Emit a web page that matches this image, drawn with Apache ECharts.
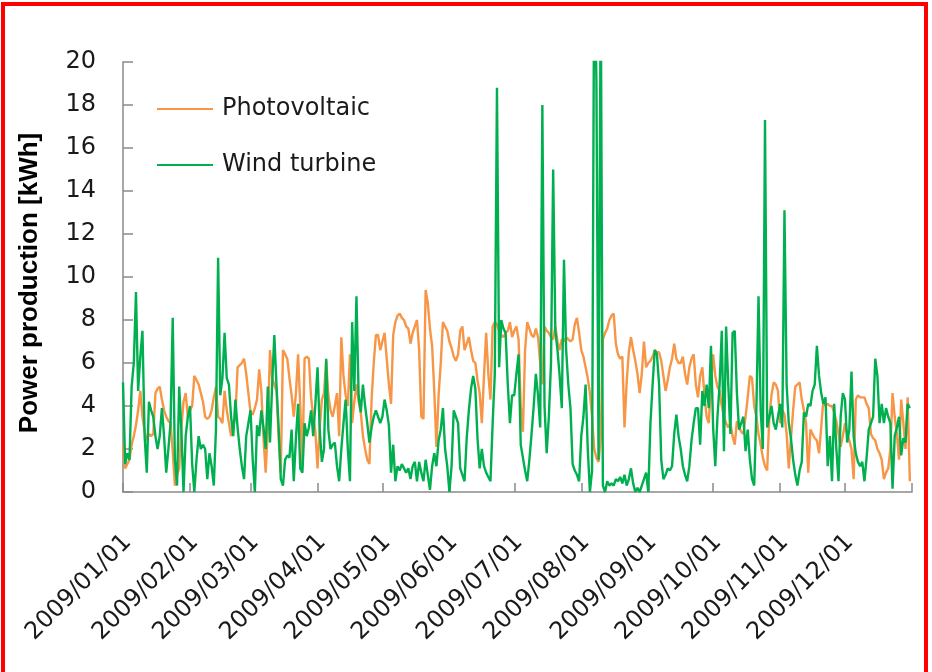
<!DOCTYPE html>
<html>
<head>
<meta charset="utf-8">
<title>Power production 2009</title>
<script src="https://cdn.jsdelivr.net/npm/echarts@6/dist/echarts.min.js"></script>
<style>
  html, body { margin: 0; padding: 0; background: #ffffff; }
  #chart { width: 932px; height: 672px; }
</style>
</head>
<body>
<div id="chart"></div>
<script>
// Daily energy yield in 2009 [kWh], one line per month (Jan..Dec)
const photovoltaic = [
  2.2, 1.1, 1.3, 1.5, 2.2, 2.6, 3.1, 3.8, 4.7, 3.5, 2.8, 2.4, 2.7, 2.6, 2.7, 4.6, 4.8, 4.9, 4.3, 3.8, 3.5, 3.3, 3.2, 1.9, 0.3, 0.8, 1.1, 3.0, 4.2, 4.6, 3.5,
  3.8, 4.0, 5.4, 5.2, 5.0, 4.6, 4.2, 3.5, 3.4, 3.5, 3.8, 4.4, 4.9, 3.5, 3.4, 3.2, 4.7, 3.8, 3.2, 2.6, 3.0, 3.5, 5.8, 5.9, 6.0, 6.2, 5.5, 4.6,
  3.7, 3.6, 3.9, 4.3, 5.7, 4.7, 2.5, 0.9, 3.0, 6.6, 5.3, 5.0, 4.7, 2.5, 0.9, 6.6, 6.4, 6.2, 5.3, 4.5, 3.5, 4.6, 6.4, 4.0, 1.2, 6.2, 6.3, 6.2, 4.4, 3.5, 2.8,
  1.1, 3.0, 4.3, 4.6, 6.1, 4.5, 3.8, 3.5, 4.0, 4.6, 2.6, 7.2, 5.4, 4.5, 4.0, 6.4, 3.2, 4.2, 5.0, 4.2, 3.7, 2.6, 2.0, 1.5, 1.3, 4.3, 6.0, 7.3, 7.3, 6.6,
  7.0, 7.4, 6.2, 5.0, 4.1, 7.3, 7.9, 8.2, 8.3, 8.1, 8.0, 7.7, 7.6, 6.9, 7.4, 7.7, 8.0, 6.6, 3.5, 3.4, 9.4, 8.8, 7.6, 6.8, 4.7, 2.1, 4.5, 6.0, 7.9, 7.7, 7.5,
  7.0, 6.7, 6.3, 6.1, 6.4, 7.5, 7.7, 6.6, 6.9, 7.2, 6.6, 6.1, 6.0, 5.2, 4.6, 3.2, 5.4, 7.4, 5.5, 4.3, 7.7, 7.9, 7.8, 7.5, 7.3, 7.2, 7.4, 7.5, 7.9, 7.2,
  7.5, 7.7, 7.1, 4.0, 2.8, 6.6, 7.9, 7.6, 7.3, 7.2, 7.6, 7.2, 6.0, 5.0, 7.7, 7.5, 7.4, 7.2, 7.1, 7.7, 7.0, 6.6, 7.1, 7.0, 7.2, 7.1, 7.0, 7.1, 7.8, 8.1, 7.4,
  6.6, 6.3, 5.8, 5.3, 4.6, 3.5, 2.0, 1.6, 1.4, 2.5, 7.1, 7.4, 7.6, 8.0, 8.2, 8.3, 6.9, 6.4, 6.2, 6.3, 3.0, 5.1, 6.5, 7.2, 6.6, 6.1, 5.5, 4.6, 5.5, 7.0, 5.8,
  6.0, 6.1, 6.3, 6.6, 6.5, 6.5, 6.1, 5.4, 4.7, 5.2, 5.8, 6.2, 6.9, 6.2, 6.0, 6.0, 6.3, 5.5, 5.0, 5.8, 6.2, 6.4, 5.0, 4.4, 5.4, 5.8, 4.5, 3.5, 3.2, 5.0,
  6.4, 5.4, 4.9, 4.7, 4.0, 3.5, 3.2, 3.0, 3.2, 2.6, 2.2, 3.3, 3.0, 2.8, 2.7, 3.5, 4.4, 5.4, 5.3, 4.0, 3.5, 2.7, 2.2, 1.6, 1.2, 1.0, 3.5, 4.5, 5.1, 5.0, 4.7,
  3.2, 3.8, 3.6, 2.7, 1.1, 2.5, 3.8, 4.9, 5.0, 5.1, 4.3, 3.8, 3.2, 0.9, 2.9, 2.7, 2.5, 2.4, 1.8, 3.0, 4.3, 4.0, 4.1, 4.0, 4.0, 3.7, 3.3, 2.7, 2.1, 2.6,
  3.2, 2.7, 2.4, 2.0, 0.6, 4.3, 4.5, 4.4, 4.4, 4.4, 4.1, 3.9, 2.7, 2.5, 2.4, 2.0, 1.8, 1.5, 0.6, 0.9, 1.1, 2.0, 4.6, 3.5, 2.7, 1.5, 4.3, 3.2, 2.0, 4.4, 0.5
];

const windTurbine = [
  5.1, 1.3, 1.8, 1.5, 4.9, 6.0, 9.3, 4.7, 6.3, 7.5, 2.6, 0.9, 4.2, 3.8, 3.5, 2.6, 2.0, 2.6, 3.9, 2.6, 0.9, 2.0, 3.2, 8.1, 1.5, 0.3, 4.9, 2.9, 0.0, 2.6, 3.5,
  4.0, 1.3, 0.0, 1.5, 2.6, 2.0, 2.2, 2.0, 0.6, 1.8, 1.2, 0.3, 2.9, 10.9, 4.5, 5.3, 7.4, 5.3, 5.0, 3.5, 2.6, 4.3, 3.0, 2.0, 1.2, 0.6, 2.6, 3.2,
  3.8, 1.5, 0.0, 3.1, 2.6, 3.8, 3.0, 2.0, 4.9, 2.3, 5.0, 7.3, 5.0, 3.0, 0.6, 0.3, 1.5, 1.7, 1.6, 2.9, 0.5, 2.5, 4.1, 1.1, 0.9, 3.2, 2.6, 3.0, 3.8, 2.6, 4.1,
  5.8, 2.9, 1.4, 2.0, 6.2, 2.9, 2.0, 2.2, 2.3, 1.2, 0.5, 2.0, 3.2, 4.3, 2.0, 0.5, 7.9, 4.7, 9.1, 4.5, 3.7, 5.0, 4.0, 3.2, 2.3, 3.0, 3.5, 3.8, 3.5, 3.2,
  3.5, 4.3, 3.8, 3.1, 0.9, 2.2, 0.5, 1.2, 1.0, 1.3, 1.1, 0.9, 1.1, 0.6, 1.2, 1.4, 0.5, 1.4, 0.9, 0.5, 1.5, 0.8, 0.1, 1.2, 1.8, 1.2, 2.4, 2.9, 3.9, 2.0, 1.2,
  0.0, 1.2, 3.8, 3.5, 3.2, 1.1, 0.8, 0.5, 2.5, 3.8, 4.8, 5.4, 4.8, 2.5, 1.1, 2.0, 1.2, 0.9, 0.7, 0.5, 3.2, 5.5, 18.8, 5.8, 8.0, 7.6, 7.4, 5.0, 3.2, 4.5,
  4.5, 5.5, 6.4, 2.2, 1.6, 1.0, 0.5, 1.5, 2.7, 4.0, 5.5, 4.5, 3.0, 18.0, 4.0, 1.8, 3.5, 6.0, 15.0, 7.5, 6.6, 5.4, 3.9, 10.8, 6.6, 5.0, 3.9, 1.3, 1.0, 0.8, 0.5,
  2.6, 3.5, 5.0, 2.0, 0.0, 1.0, 25.0, 19.2, 1.5, 24.0, 0.3, 0.0, 0.5, 0.3, 0.4, 0.3, 0.6, 0.5, 0.7, 0.4, 0.8, 0.3, 0.6, 1.1, 0.4, 0.0, 0.2, 0.0, 0.3, 0.6, 0.9,
  0.0, 3.2, 5.0, 6.6, 6.4, 5.0, 1.5, 0.6, 0.8, 1.1, 1.0, 1.2, 2.7, 3.6, 2.6, 2.0, 1.2, 0.8, 0.5, 1.2, 2.4, 3.2, 3.9, 3.9, 2.2, 4.7, 4.0, 5.0, 3.9, 6.8,
  3.0, 1.2, 3.5, 5.0, 7.5, 1.9, 7.7, 5.0, 2.7, 7.4, 7.5, 4.6, 2.9, 3.2, 3.5, 1.9, 2.9, 1.5, 0.6, 0.3, 3.8, 9.1, 3.8, 2.0, 17.3, 3.0, 3.5, 4.0, 3.2, 2.9, 3.5,
  4.1, 3.0, 13.1, 5.0, 3.2, 2.5, 1.5, 0.8, 0.3, 1.0, 1.4, 3.7, 3.5, 4.1, 4.0, 4.7, 5.0, 6.8, 5.4, 4.6, 4.1, 4.4, 1.2, 2.6, 0.5, 4.1, 2.0, 0.5, 3.5, 4.6,
  4.3, 2.3, 2.9, 5.6, 2.6, 1.8, 1.4, 1.2, 1.4, 0.5, 1.6, 2.9, 3.2, 3.5, 6.2, 5.4, 3.2, 4.1, 3.2, 3.9, 3.5, 3.2, 0.15, 2.6, 3.0, 3.5, 1.7, 2.5, 2.3, 4.1, 3.9
];

// Month-start labels shown under the date axis
const monthLabels = [
  '2009/01/01', '2009/02/01', '2009/03/01', '2009/04/01', '2009/05/01', '2009/06/01',
  '2009/07/01', '2009/08/01', '2009/09/01', '2009/10/01', '2009/11/01', '2009/12/01'
];

const yTicks = [0, 2, 4, 6, 8, 10, 12, 14, 16, 18, 20];

// Daily category axis: 2009/01/01 .. 2010/01/01 (the last one closes the axis)
const pad = n => (n < 10 ? '0' : '') + n;
const days = [];
for (let t = Date.UTC(2009, 0, 1); t <= Date.UTC(2010, 0, 1); t += 86400000) {
  const d = new Date(t);
  days.push(d.getUTCFullYear() + '/' + pad(d.getUTCMonth() + 1) + '/' + pad(d.getUTCDate()));
}
const labelSet = new Set(monthLabels);

const FONT = 'DejaVu Sans';
const AXIS_GREY = '#8a8a8a';

const chart = echarts.init(document.getElementById('chart'), null, { renderer: 'canvas' });

chart.setOption({
  animation: false,
  backgroundColor: '#ffffff',
  color: ['#F79646', '#00B050'],
  grid: { left: 123, right: 20, top: 62, bottom: 180, containLabel: false },
  legend: {
    orient: 'vertical',
    left: 157,
    top: 95,
    padding: 0,
    itemWidth: 56,
    itemHeight: 14,
    itemGap: 28,
    icon: 'path://M0,6 L56,6 L56,8 L0,8 Z',
    data: ['Photovoltaic', 'Wind turbine'],
    textStyle: { fontFamily: FONT, fontSize: 24, color: '#1a1a1a', lineHeight: 28, padding: [0, 0, 0, 4] }
  },
  xAxis: {
    type: 'category',
    data: days,
    boundaryGap: false,
    axisLine: { show: true, lineStyle: { color: AXIS_GREY, width: 1.5 } },
    axisTick: {
      show: true,
      inside: true,
      length: 9,
      interval: (i, v) => v.endsWith('/01') && (labelSet.has(v) || i === days.length - 1),
      lineStyle: { color: AXIS_GREY, width: 1.5 }
    },
    axisLabel: {
      interval: (i, v) => labelSet.has(v),
      rotate: 45,
      margin: 42,
      verticalAlign: 'top',
      lineHeight: 13,
      fontFamily: FONT,
      fontSize: 24,
      color: '#1a1a1a'
    },
    splitLine: { show: false }
  },
  yAxis: {
    type: 'value',
    min: yTicks[0],
    max: yTicks[yTicks.length - 1],
    interval: yTicks[1] - yTicks[0],
    name: 'Power production [kWh]',
    nameLocation: 'middle',
    nameRotate: 90,
    nameGap: 80,
    nameTextStyle: { fontFamily: 'Liberation Sans', fontWeight: 'bold', fontSize: 26, color: '#000000', padding: [0, 12, 0, 0] },
    axisLine: { show: true, lineStyle: { color: AXIS_GREY, width: 1.5 } },
    axisTick: { show: true, inside: true, length: 10, lineStyle: { color: AXIS_GREY, width: 1.5 } },
    axisLabel: { margin: 27, fontFamily: FONT, fontSize: 24, color: '#1a1a1a' },
    splitLine: { show: false }
  },
  series: [
    {
      name: 'Photovoltaic',
      type: 'line',
      data: photovoltaic,
      symbol: 'none',
      clip: true,
      lineStyle: { width: 2.4, color: '#F79646' }
    },
    {
      name: 'Wind turbine',
      type: 'line',
      data: windTurbine,
      symbol: 'none',
      clip: true,
      lineStyle: { width: 2.4, color: '#00B050' }
    }
  ],
  graphic: [
    {
      type: 'rect',
      silent: true,
      shape: { x: 3, y: 4, width: 923, height: 720 },
      style: { fill: null, stroke: '#ff0000', lineWidth: 4 }
    }
  ]
});
</script>
</body>
</html>
